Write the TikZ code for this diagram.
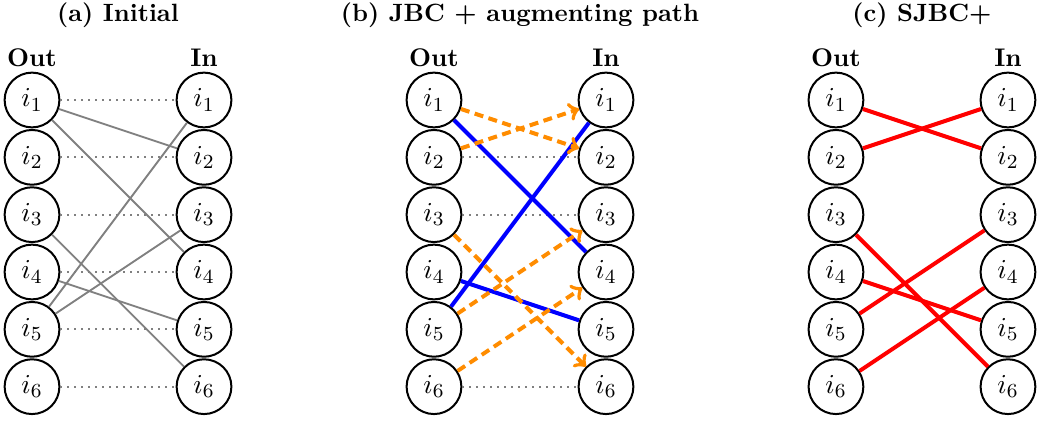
\documentclass[tikz,border=0pt]{standalone}
\usepackage{xcolor}
\usepackage{amsmath}
\definecolor{EdgeGray}{HTML}{808080}
\definecolor{PathOrange}{HTML}{FF8C00}
\definecolor{MatchBlue}{HTML}{0000FF}
\definecolor{MatchRed}{HTML}{FF0000}

\begin{document}
\begin{tikzpicture}[every node/.style={font=\fontsize{11}{13}\selectfont},
    vertex/.style={draw, circle, line width=0.8pt, minimum size=0.77cm, inner sep=0pt},
    side/.style={font=\fontsize{10.2}{12}\selectfont\bfseries, anchor=base},
    panel/.style={font=\fontsize{10}{12}\selectfont\bfseries, anchor=base},
    unmatched/.style={EdgeGray, dotted, line width=0.8pt},
    candidate/.style={EdgeGray, line width=0.75pt},
    jbc/.style={MatchBlue, line width=1.6pt},
    augment/.style={->, PathOrange, line width=1.6pt, dash pattern=on 3.6pt off 2.2pt},
    sjbc/.style={MatchRed, line width=1.6pt}]
    \useasboundingbox (0,0) rectangle (14.761,-5.918);

    % Panel titles (top)
    \node[panel] (title-a) at (1.659,-0.309) {(a) Initial};
    \node[panel] (title-b) at (7.310,-0.309) {(b) JBC + augmenting path};
    \node[panel] (title-c) at (12.961,-0.309) {(c) SJBC+};

    % Column headers
    \node[side] (a-outlab) at (0.450,-0.942) {Out};
    \node[side] (a-inlab) at (2.868,-0.942) {In};
    \node[side] (b-outlab) at (6.101,-0.942) {Out};
    \node[side] (b-inlab) at (8.519,-0.942) {In};
    \node[side] (c-outlab) at (11.752,-0.942) {Out};
    \node[side] (c-inlab) at (14.170,-0.942) {In};

    % (a) Initial: out column (left)
    \node[vertex] (a-out1) at (0.450,-1.406) {$i_1$};
    \node[vertex] (a-out2) at (0.450,-2.212) {$i_2$};
    \node[vertex] (a-out3) at (0.450,-3.018) {$i_3$};
    \node[vertex] (a-out4) at (0.450,-3.824) {$i_4$};
    \node[vertex] (a-out5) at (0.450,-4.630) {$i_5$};
    \node[vertex] (a-out6) at (0.450,-5.436) {$i_6$};
    % (a) Initial: in column (right)
    \node[vertex] (a-in1) at (2.868,-1.406) {$i_1$};
    \node[vertex] (a-in2) at (2.868,-2.212) {$i_2$};
    \node[vertex] (a-in3) at (2.868,-3.018) {$i_3$};
    \node[vertex] (a-in4) at (2.868,-3.824) {$i_4$};
    \node[vertex] (a-in5) at (2.868,-4.630) {$i_5$};
    \node[vertex] (a-in6) at (2.868,-5.436) {$i_6$};

    % (b) JBC + augmenting path: out column
    \node[vertex] (b-out1) at (6.101,-1.406) {$i_1$};
    \node[vertex] (b-out2) at (6.101,-2.212) {$i_2$};
    \node[vertex] (b-out3) at (6.101,-3.018) {$i_3$};
    \node[vertex] (b-out4) at (6.101,-3.824) {$i_4$};
    \node[vertex] (b-out5) at (6.101,-4.630) {$i_5$};
    \node[vertex] (b-out6) at (6.101,-5.436) {$i_6$};
    % (b) in column
    \node[vertex] (b-in1) at (8.519,-1.406) {$i_1$};
    \node[vertex] (b-in2) at (8.519,-2.212) {$i_2$};
    \node[vertex] (b-in3) at (8.519,-3.018) {$i_3$};
    \node[vertex] (b-in4) at (8.519,-3.824) {$i_4$};
    \node[vertex] (b-in5) at (8.519,-4.630) {$i_5$};
    \node[vertex] (b-in6) at (8.519,-5.436) {$i_6$};

    % (c) SJBC+: out column
    \node[vertex] (c-out1) at (11.752,-1.406) {$i_1$};
    \node[vertex] (c-out2) at (11.752,-2.212) {$i_2$};
    \node[vertex] (c-out3) at (11.752,-3.018) {$i_3$};
    \node[vertex] (c-out4) at (11.752,-3.824) {$i_4$};
    \node[vertex] (c-out5) at (11.752,-4.630) {$i_5$};
    \node[vertex] (c-out6) at (11.752,-5.436) {$i_6$};
    % (c) in column
    \node[vertex] (c-in1) at (14.170,-1.406) {$i_1$};
    \node[vertex] (c-in2) at (14.170,-2.212) {$i_2$};
    \node[vertex] (c-in3) at (14.170,-3.018) {$i_3$};
    \node[vertex] (c-in4) at (14.170,-3.824) {$i_4$};
    \node[vertex] (c-in5) at (14.170,-4.630) {$i_5$};
    \node[vertex] (c-in6) at (14.170,-5.436) {$i_6$};

    % (a) edges: dotted self links, then gray candidates
    \draw[unmatched] (a-out1) -- (a-in1);
    \draw[unmatched] (a-out2) -- (a-in2);
    \draw[unmatched] (a-out3) -- (a-in3);
    \draw[unmatched] (a-out4) -- (a-in4);
    \draw[unmatched] (a-out5) -- (a-in5);
    \draw[unmatched] (a-out6) -- (a-in6);
    \draw[candidate] (a-out1) -- (a-in2);
    \draw[candidate] (a-out1) -- (a-in4);
    \draw[candidate] (a-out3) -- (a-in6);
    \draw[candidate] (a-out4) -- (a-in5);
    \draw[candidate] (a-out5) -- (a-in1);
    \draw[candidate] (a-out5) -- (a-in3);

    % (b) edges: dotted, blue matching, orange augmenting path
    \draw[unmatched] (b-out2) -- (b-in2);
    \draw[unmatched] (b-out3) -- (b-in3);
    \draw[unmatched] (b-out6) -- (b-in6);
    \draw[jbc] (b-out1) -- (b-in4);
    \draw[jbc] (b-out4) -- (b-in5);
    \draw[jbc] (b-out5) -- (b-in1);
    \draw[augment] (b-out1) -- (b-in2);
    \draw[augment] (b-out2) -- (b-in1);
    \draw[augment] (b-out3) -- (b-in6);
    \draw[augment] (b-out5) -- (b-in3);
    \draw[augment] (b-out6) -- (b-in4);

    % (c) edges: red final matching
    \draw[sjbc] (c-out1) -- (c-in2);
    \draw[sjbc] (c-out2) -- (c-in1);
    \draw[sjbc] (c-out3) -- (c-in6);
    \draw[sjbc] (c-out4) -- (c-in5);
    \draw[sjbc] (c-out5) -- (c-in3);
    \draw[sjbc] (c-out6) -- (c-in4);
\end{tikzpicture}
\end{document}
